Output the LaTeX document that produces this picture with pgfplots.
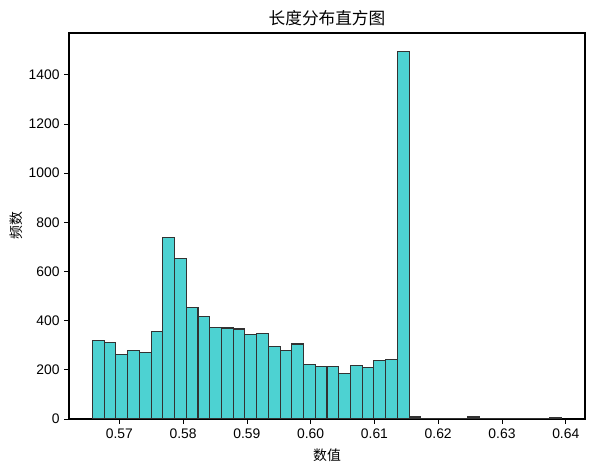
\documentclass[border=0pt]{standalone}
\usepackage{fontspec}
\setmainfont{Liberation Sans}
\newfontfamily\cjk{Noto Sans CJK SC}
\usepackage{pgfplots}
\pgfplotsset{compat=1.18}
\definecolor{barfill}{RGB}{77,210,210}
\definecolor{baredge}{RGB}{50,50,50}
\begin{document}
\begin{tikzpicture}
\begin{axis}[
  scale only axis, width=387pt, height=289.5pt,
  xmin=0.56210, xmax=0.64302, ymin=0, ymax=1570,
  xtick={0.57,0.58,0.59,0.60,0.61,0.62,0.63,0.64},
  xticklabels={0.57,0.58,0.59,0.60,0.61,0.62,0.63,0.64},
  ytick={0,200,400,600,800,1000,1200,1400},
  yticklabels={0,200,400,600,800,1000,1200,1400},
  tick align=outside, tick pos=left, major tick length=3.6pt,
  tick style={black, line width=0.6pt},
  /pgf/number format/assume math mode=true,
  ticklabel style={font=\fontsize{10.4}{12}\selectfont},
  title={\cjk 长度分布直方图},
  title style={font=\fontsize{12.5}{14}\selectfont, at={(0.5,1)}, anchor=south, yshift=-4.5pt},
  xlabel={\cjk 数值}, ylabel={\cjk 频数},
  label style={font=\fontsize{10.4}{12}\selectfont},
  xlabel style={yshift=-1pt},
  ylabel style={yshift=-2.5pt},
  axis line style={line width=0.8pt},
]
\addplot[ybar interval, fill=barfill, draw=baredge, line width=0.8pt] coordinates {
(0.56578,318) (0.56762,313) (0.56946,264) (0.57130,280) (0.57314,272)
(0.57498,356) (0.57681,739) (0.57865,654) (0.58049,454) (0.58233,416)
(0.58417,374) (0.58601,370) (0.58785,366) (0.58969,344) (0.59153,348)
(0.59337,294) (0.59520,280) (0.59704,305) (0.59888,220) (0.60072,212)
(0.60256,212) (0.60440,186) (0.60624,216) (0.60808,208) (0.60992,237)
(0.61176,242) (0.61359,1495) (0.61543,8) (0.61727,3) (0.61911,3)
(0.62095,3) (0.62279,3) (0.62463,8) (0.62647,3) (0.62831,3)
(0.63015,3) (0.63198,3) (0.63382,2) (0.63566,0) (0.63750,4)
(0.63934,4)
};
\end{axis}
\pgfresetboundingbox
\path[use as bounding box] ([shift={(-51.75pt,-39pt)}]current axis.south west) rectangle ([shift={(7.5pt,24.75pt)}]current axis.north east);
\end{tikzpicture}
\end{document}
